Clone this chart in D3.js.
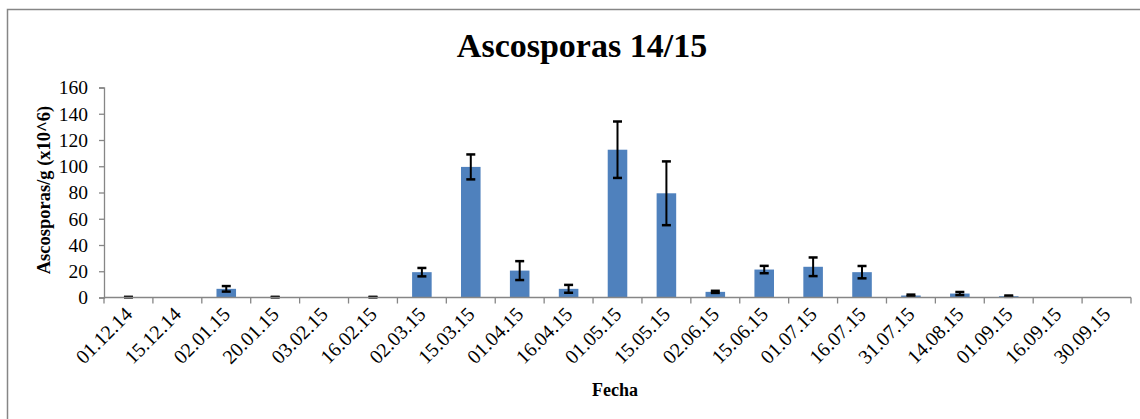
<!DOCTYPE html>
<html>
<head>
<meta charset="utf-8">
<script src="https://cdn.jsdelivr.net/npm/d3@7"></script>
</head>
<body style="margin:0">
<svg id="chart" width="1140" height="419"></svg>
<script>
const categories = ["01.12.14","15.12.14","02.01.15","20.01.15","03.02.15","16.02.15","02.03.15","15.03.15","01.04.15","16.04.15","01.05.15","15.05.15","02.06.15","15.06.15","01.07.15","16.07.15","31.07.15","14.08.15","01.09.15","16.09.15","30.09.15"];
const values = [0.3, 0, 6.6, 0.3, 0, 0.3, 19.3, 99.5, 20.5, 6.6, 112.6, 79.4, 4.3, 21.3, 23.4, 19.3, 1.5, 3.0, 1.0, 0, 0];
const errors = [0.2, 0, 2.1, 0.2, 0, 0.2, 3.2, 9.5, 7.2, 3.0, 21.5, 24.3, 0.8, 2.8, 7.1, 4.7, 0.7, 1.2, 0.5, 0, 0];
const yTicks = [0, 20, 40, 60, 80, 100, 120, 140, 160];
const title = "Ascosporas 14/15";
const xTitle = "Fecha";
const yTitle = "Ascosporas/g (x10^6)";

const FONT = "'Liberation Serif', 'Times New Roman', serif";
const svg = d3.select("#chart");
const margin = {left: 104, right: 9, top: 87.5, bottom: 121.5};
const W = 1140, H = 419;
const x = d3.scaleBand().domain(categories).range([margin.left, W - margin.right]).paddingInner(0.6).paddingOuter(0.3);
const y = d3.scaleLinear().domain([0, 160]).range([H - margin.bottom, margin.top]);
const axisColor = "#868686";

// outer border (only top/left visible)
svg.append("rect").attr("x", 7.5).attr("y", 9.5).attr("width", 1200).attr("height", 500)
  .attr("fill", "none").attr("stroke", axisColor).attr("stroke-width", 1.5);

// title
svg.append("text").attr("x", 582).attr("y", 57).attr("text-anchor", "middle")
  .style("font-family", FONT).attr("font-size", 34).attr("font-weight", "bold").text(title);

// bars
svg.append("g").selectAll("rect").data(categories).join("rect")
  .attr("x", d => x(d))
  .attr("y", (d, i) => y(values[i]))
  .attr("width", x.bandwidth())
  .attr("height", (d, i) => y(0) - y(values[i]))
  .attr("fill", "#4F81BD");

// error bars
const eb = svg.append("g").attr("stroke", "#000");
categories.forEach((c, i) => {
  if (values[i] === 0) return;
  const cx = x(c) + x.bandwidth() / 2;
  const y1 = y(values[i] + errors[i]), y2 = y(Math.max(0, values[i] - errors[i]));
  eb.append("line").attr("x1", cx).attr("x2", cx).attr("y1", y1).attr("y2", y2).attr("stroke-width", 2);
  [y1, y2].forEach(yy => eb.append("line").attr("x1", cx - 4.5).attr("x2", cx + 4.5)
    .attr("y1", yy).attr("y2", yy).attr("stroke-width", 2.5));
});

// y axis
const yAxis = svg.append("g").attr("transform", `translate(${margin.left},0)`)
  .call(d3.axisLeft(y).tickValues(yTicks).tickSize(5).tickPadding(11).tickFormat(d3.format("d")));
yAxis.attr("font-family", null).style("font-family", FONT);
yAxis.select(".domain").attr("stroke", axisColor).attr("stroke-width", 1.3);
yAxis.selectAll(".tick line").attr("stroke", axisColor).attr("stroke-width", 1.3);
yAxis.selectAll("text").attr("font-size", 19.5).attr("fill", "#000").style("font-family", FONT);

// x axis
const gx = svg.append("g");
gx.append("line").attr("x1", margin.left).attr("x2", W - margin.right).attr("y1", y(0)).attr("y2", y(0))
  .attr("stroke", axisColor).attr("stroke-width", 1.3);
const bounds = d3.range(categories.length + 1);
const xEdge = d3.scaleLinear().domain([0, categories.length]).range([margin.left, W - margin.right]);
gx.selectAll("line.tk").data(bounds).join("line").attr("class", "tk")
  .attr("x1", d => xEdge(d)).attr("x2", d => xEdge(d))
  .attr("y1", y(0)).attr("y2", y(0) + 6)
  .attr("stroke", axisColor).attr("stroke-width", 1.3);
gx.selectAll("text").data(categories).join("text")
  .attr("transform", d => `translate(${x(d) + x.bandwidth() / 2 + 5},${y(0) + 18}) rotate(-45)`)
  .attr("text-anchor", "end")
  .style("font-family", FONT)
  .attr("font-size", 20)
  .text(d => d);

// axis titles
svg.append("text").attr("x", 615).attr("y", 396).attr("text-anchor", "middle")
  .style("font-family", FONT).attr("font-size", 18).attr("font-weight", "bold").text(xTitle);
svg.append("text").attr("transform", `translate(50,190) rotate(-90)`).attr("text-anchor", "middle")
  .style("font-family", FONT).attr("font-size", 18.5).attr("font-weight", "bold").text(yTitle);
</script>
</body>
</html>
